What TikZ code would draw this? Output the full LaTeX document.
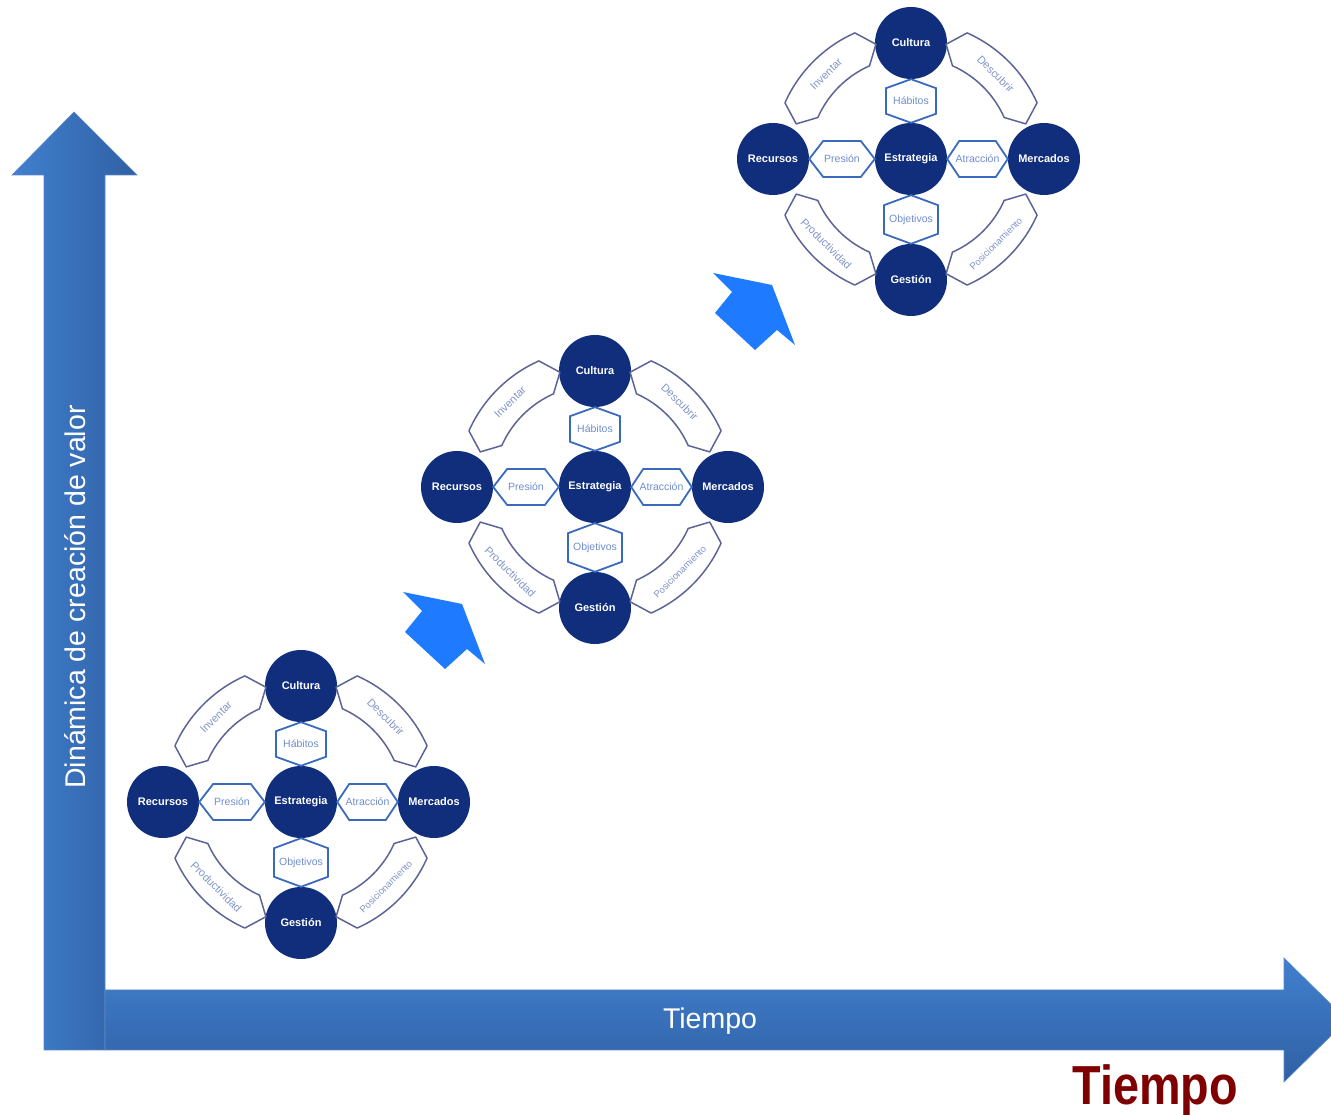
\documentclass[tikz,border=0pt]{standalone}
\usepackage{fontspec}
\setmainfont{Liberation Sans}
\usetikzlibrary{calc}

\definecolor{navy}{RGB}{16,46,124}
\definecolor{hexblue}{RGB}{58,106,190}
\definecolor{hextext}{RGB}{110,140,205}
\definecolor{bandline}{RGB}{92,100,150}
\definecolor{bandtext}{RGB}{128,148,200}
\definecolor{axislight}{RGB}{64,128,206}
\definecolor{axisdark}{RGB}{48,96,164}
\definecolor{axisedge}{RGB}{88,136,200}
\definecolor{jumpblue}{RGB}{30,122,255}
\definecolor{tiempored}{RGB}{126,0,0}

\tikzset{
	disc/.style={circle, fill=navy, minimum size=72pt, inner sep=0pt, text=white, font=\bfseries\fontsize{11}{11}\selectfont},
	hexa/.style={draw=hexblue, line width=1.8pt, line join=miter},
	hexword/.style={text=hextext, inner sep=0pt, font=\fontsize{10.5}{10.5}\selectfont},
	band/.style={draw=bandline, line width=1.5pt, line join=round},
	bandword/.style={text=bandtext, inner sep=0pt},
	axis/.style={draw=axisedge, line width=0.6pt},
}

\begin{document}
\begin{tikzpicture}[x=1pt, y=1pt]
	\clip (0,0) rectangle (1331,1115);

	\path[axis, left color=axislight, right color=axisdark] (44,65) -- (44,940) -- (12,940) -- (74,1003) -- (137,940) -- (105,940) -- (105,65) -- cycle;
	\path[axis, top color=axislight, bottom color=axisdark] (105,65) -- (105,125) -- (1284,125) -- (1284,157) -- (1347,95) -- (1284,33) -- (1284,65) -- cycle;
	\node[text=white, rotate=90, font=\fontsize{28.5}{30}\selectfont] (valor) at (75,518) {Dinámica de creación de valor};
	\node[text=white, font=\fontsize{28.5}{30}\selectfont] (tiempo) at (710,94) {Tiempo};
	\node[text=tiempored, anchor=base, font=\bfseries\fontsize{55}{55}\selectfont] (tiempo-r) at (1155,10) {\scalebox{0.85}[1]{Tiempo}};

	\foreach \p in {(754,806), (444,487)}
		\fill[jumpblue, shift={\p}] (-41,36) -- (18,24) -- (41,-36) -- (23,-21) -- (1,-41) -- (-39,-4) -- (-22,17) -- cycle;

	\foreach \c/\cx/\cy in {a/301/313, b/595/628, c/911/956}{
		\begin{scope}[shift={(\cx,\cy)}]
			\node[disc] (\c-est) at (0,0) {Estrategia};
			\node[disc] (\c-cul) at (0,116) {Cultura};
			\node[disc] (\c-ges) at (0,-121) {Gestión};
			\node[disc] (\c-rec) at (-138,0) {Recursos};
			\node[disc] (\c-mer) at (133,0) {Mercados};

			\draw[hexa] (\c-rec.east) -- ++(14,18) -- ($(\c-est.west)+(-14,18)$) -- (\c-est.west) -- ++(-14,-18) -- ($(\c-rec.east)+(14,-18)$) -- cycle;
			\draw[hexa] (\c-est.east) -- ++(12,18) -- ($(\c-mer.west)+(-12,18)$) -- (\c-mer.west) -- ++(-12,-18) -- ($(\c-est.east)+(12,-18)$) -- cycle;
			\draw[hexa] (\c-est.north) -- ++(25,9) -- ($(\c-cul.south)+(25,-9)$) -- (\c-cul.south) -- ++(-25,-9) -- ($(\c-est.north)+(-25,9)$) -- cycle;
			\draw[hexa] (\c-ges.north) -- ++(27,10) -- ($(\c-est.south)+(27,-10)$) -- (\c-est.south) -- ++(-27,-10) -- ($(\c-ges.north)+(-27,10)$) -- cycle;
			\node[hexword] at ($(\c-rec.east)!.5!(\c-est.west)$) {Presión};
			\node[hexword] at ($(\c-est.east)!.5!(\c-mer.west)$) {Atracción};
			\node[hexword] at ($(\c-est.north)!.5!(\c-cul.south)$) {Hábitos};
			\node[hexword] at ($(\c-ges.north)!.5!(\c-est.south)$) {Objetivos};

			\foreach \q/\w/\r/\s in {90/Inventar/45/11, 0/Descubrir/-45/11, 180/Productividad/-45/11, 270/Posicionamiento/45/9.5}{
				\draw[band] (\q+17:120) -- (\q+24:138) arc[start angle=\q+24, end angle=\q+66, radius=138] -- (\q+73:120) -- (\q+66:102) arc[start angle=\q+66, end angle=\q+24, radius=102] -- cycle;
				\node[bandword, rotate=\r, font=\fontsize{\s}{\s}\selectfont] at (\q+45:120) {\w};
			}
		\end{scope}
	}
\end{tikzpicture}
\end{document}
